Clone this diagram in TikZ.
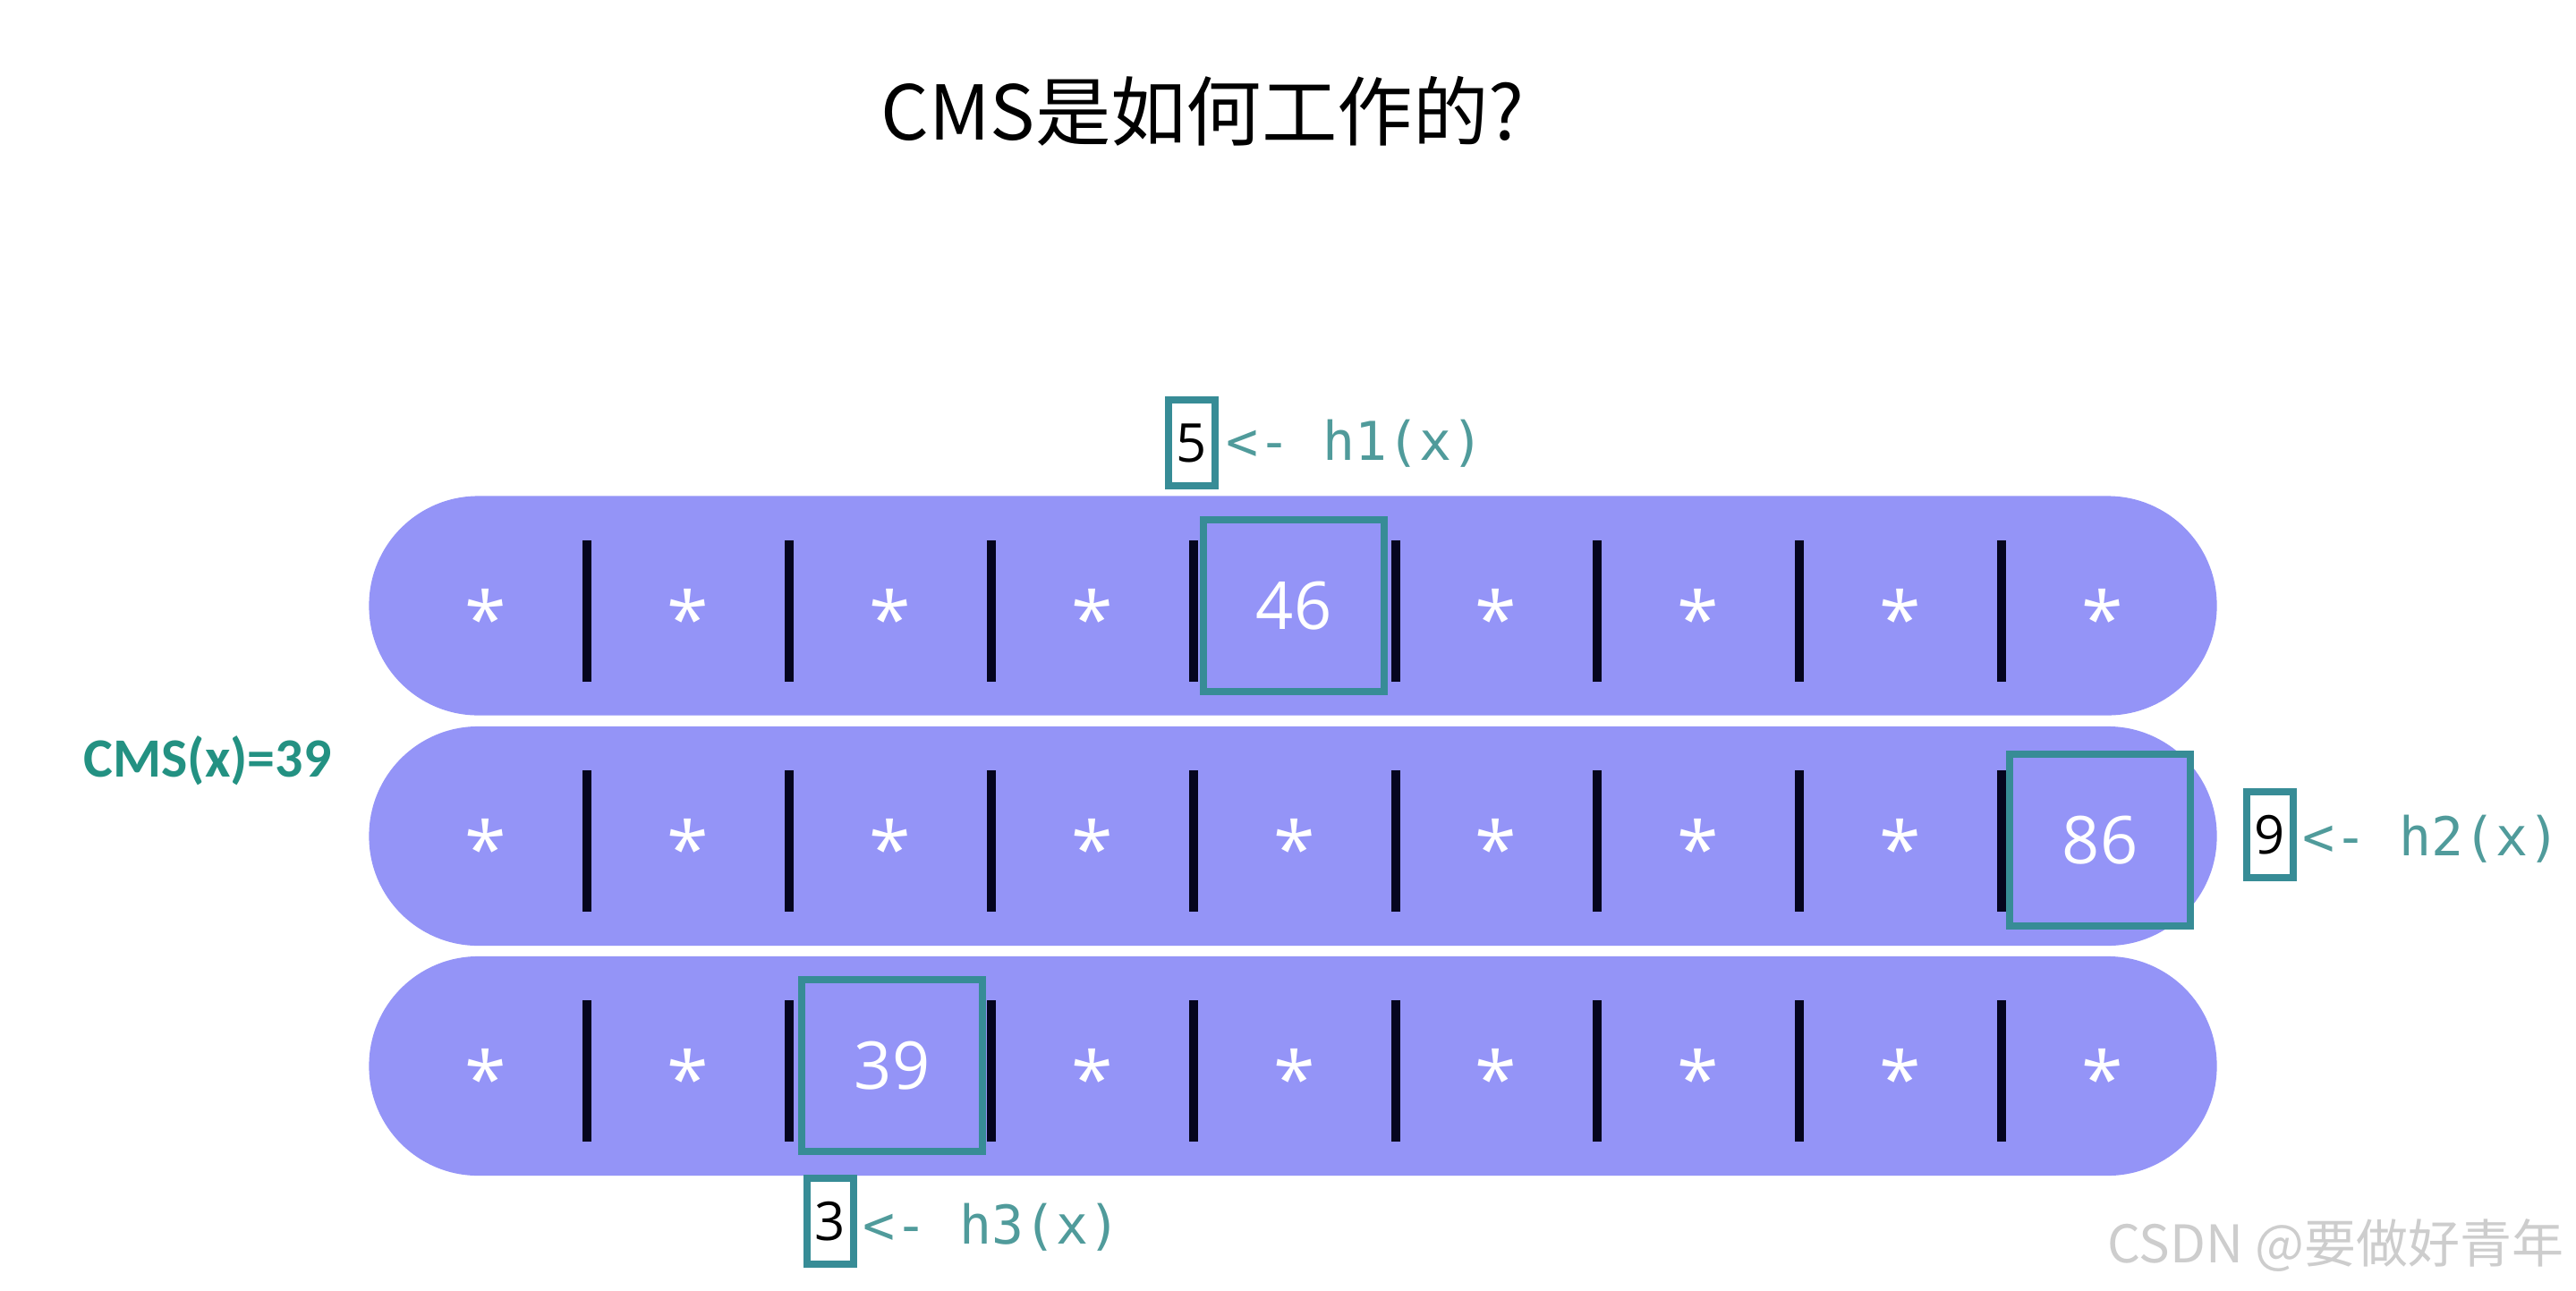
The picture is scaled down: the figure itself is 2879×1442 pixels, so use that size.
\documentclass[tikz,border=0pt]{standalone}
\usepackage{fontspec}
\newfontfamily\cjkfont{Noto Sans CJK SC}
\newfontfamily\carlito{Carlito}
\newfontfamily\osans{Open Sans}
\newfontfamily\monofont{DejaVu Sans Mono}
\definecolor{barcol}{RGB}{148,148,247}
\definecolor{sepcol}{RGB}{5,5,30}
\definecolor{boxteal}{RGB}{55,140,150}
\definecolor{lblteal}{RGB}{80,155,155}
\definecolor{cmsteal}{RGB}{35,145,130}
\definecolor{wmgray}{RGB}{205,205,205}
\begin{document}
\begin{tikzpicture}[x=0.01cm,y=-0.01cm,
  bar/.style={draw=none,fill=barcol,rectangle,rounded corners=1.22cm,minimum width=20.64cm,minimum height=2.45cm,inner sep=0pt},
  sepbar/.style={draw=none,fill=sepcol,rectangle,minimum width=0.1cm,minimum height=1.58cm,inner sep=0pt},
  starlbl/.style={text=white,font=\osans\fontsize{24}{28}\selectfont,inner sep=0pt},
  hbox/.style={draw=boxteal,line width=0.08cm,fill=barcol,minimum width=2.01cm,minimum height=1.92cm,inner sep=0pt,text=white,font=\osans\fontsize{21}{25}\selectfont},
  ibox/.style={draw=boxteal,line width=0.08cm,fill=white,minimum width=0.52cm,minimum height=0.95cm,inner sep=0pt,text=black,font=\osans\fontsize{17}{20}\selectfont},
  hlbl/.style={anchor=west,inner sep=0pt,text=lblteal,font=\monofont\fontsize{17}{20}\selectfont},
]
\useasboundingbox (0,0) rectangle (2879,1442);
\fill[white] (0,0) rectangle (2879,1442);

% title
\node[inner sep=0pt,font=\cjkfont\fontsize{24}{28}\selectfont] (title) at (1344,124) {CMS是如何工作的?};

% bars
\node[bar] (row1) at (1445,677) {};
\node[bar] (row2) at (1445,934.5) {};
\node[bar] (row3) at (1445,1191.5) {};

% separators
\foreach \r/\y in {1/683,2/940,3/1197}{
  \foreach \i/\x in {1/656,2/882,3/1108,4/1334,5/1560,6/1785,7/2011,8/2237}{
    \node[sepbar] (sep\r-\i) at (\x,\y) {};
  }
}

% stars
\foreach \c/\x in {0/543,1/769,2/995,3/1221,5/1672,6/1898,7/2124,8/2350}{
  \node[starlbl] (star1-\c) at (\x,690) {*};
}
\foreach \c/\x in {0/543,1/769,2/995,3/1221,4/1447,5/1672,6/1898,7/2124}{
  \node[starlbl] (star2-\c) at (\x,947) {*};
}
\foreach \c/\x in {0/543,1/769,3/1221,4/1447,5/1672,6/1898,7/2124,8/2350}{
  \node[starlbl] (star3-\c) at (\x,1204) {*};
}

% highlighted counters
\node[hbox] (cell1) at (1446,677) {46};
\node[hbox] (cell2) at (2347,939) {86};
\node[hbox] (cell3) at (997,1191) {39};

% index boxes and hash labels
\node[ibox] (idx1) at (1332,495) {5};
\node[hlbl] (hash1) at (1370,496) {<- h1(x)};
\node[ibox] (idx2) at (2537,933) {9};
\node[hlbl] (hash2) at (2573,938) {<- h2(x)};
\node[ibox] (idx3) at (928,1365) {3};
\node[hlbl] (hash3) at (964,1372) {<- h3(x)};

% result
\node[inner sep=0pt,text=cmsteal,font=\carlito\bfseries\fontsize{17.6}{20}\selectfont] (result) at (232,850) {CMS(x)=39};

% watermark
\node[inner sep=0pt,anchor=east,text=wmgray,font=\cjkfont\fontsize{16.5}{20}\selectfont] (wm) at (2866,1392) {CSDN @要做好青年};
\end{tikzpicture}
\end{document}
